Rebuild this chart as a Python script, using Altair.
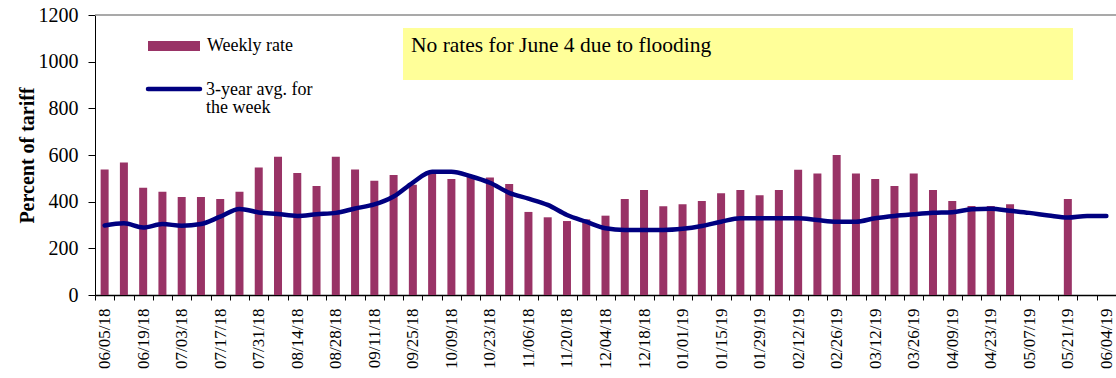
import altair as alt
import pandas as pd

weeks = [
    "06/05/18", "06/12/18", "06/19/18", "06/26/18", "07/03/18", "07/10/18", "07/17/18",
    "07/24/18", "07/31/18", "08/07/18", "08/14/18", "08/21/18", "08/28/18", "09/04/18",
    "09/11/18", "09/18/18", "09/25/18", "10/02/18", "10/09/18", "10/16/18", "10/23/18",
    "10/30/18", "11/06/18", "11/13/18", "11/20/18", "11/27/18", "12/04/18", "12/11/18",
    "12/18/18", "12/25/18", "01/01/19", "01/08/19", "01/15/19", "01/22/19", "01/29/19",
    "02/05/19", "02/12/19", "02/19/19", "02/26/19", "03/05/19", "03/12/19", "03/19/19",
    "03/26/19", "04/02/19", "04/09/19", "04/16/19", "04/23/19", "04/30/19", "05/07/19",
    "05/14/19", "05/21/19", "05/28/19", "06/04/19",
]

weekly_rate = [
    538, 568, 460, 443, 420, 420, 411, 443, 546, 593, 523, 467, 593, 538,
    490, 514, 472, 520, 497, 507, 504, 476, 356, 333, 317, 324, 340, 411,
    450, 380, 389, 403, 436, 450, 428, 450, 537, 521, 600, 521, 497, 467,
    521, 450, 403, 381, 381, 389, None, None, 411, None, None,
]

avg_3yr = [
    298, 307, 289, 304, 297, 304, 336, 369, 354, 347, 339, 346, 352, 371,
    388, 422, 482, 528, 528, 509, 481, 438, 413, 386, 343, 314, 286, 279,
    279, 279, 284, 296, 314, 329, 329, 329, 329, 321, 314, 314, 329, 339,
    346, 352, 355, 367, 370, 361, 352, 341, 332, 339, 339,
]

labeled_weeks = weeks[::2]
y_ticks = [0, 200, 400, 600, 800, 1000, 1200]

FONT = "Liberation Serif"
BAR = "#993366"
LINE = "#000080"

df = pd.DataFrame({"week": weeks, "rate": weekly_rate, "avg": avg_3yr})

label_list = "[" + ",".join("'" + w + "'" for w in labeled_weeks) + "]"

x_enc = alt.X(
    "week:N",
    sort=weeks,
    scale=alt.Scale(paddingInner=0, paddingOuter=0),
    axis=alt.Axis(
        title=None,
        labelAngle=270,
        labelFont=FONT,
        labelFontSize=17,
        labelColor="black",
        labelPadding=8,
        labelExpr="indexof(" + label_list + ", datum.value) >= 0 ? datum.label : ''",
        tickBand="extent",
        tickSize=5,
        tickColor="black",
        domainColor="black",
        domainWidth=1.5,
        grid=False,
    ),
)

y_scale = alt.Scale(domain=[0, 1200], nice=False)

bars = alt.Chart(df).mark_bar(color=BAR, size=8).encode(
    x=x_enc,
    y=alt.Y(
        "rate:Q",
        scale=y_scale,
        axis=alt.Axis(
            title="Percent of tariff",
            titleFont=FONT,
            titleFontSize=20,
            titleFontWeight="bold",
            titleColor="black",
            titleX=-62,
            titleY=140,
            titleBaseline="alphabetic",
            values=y_ticks,
            format="d",
            labelFont=FONT,
            labelFontSize=20,
            labelColor="black",
            labelPadding=10,
            tickSize=7,
            tickColor="black",
            domainColor="black",
            grid=False,
        ),
    ),
)

line = alt.Chart(df).mark_line(
    color=LINE, strokeWidth=4.5, interpolate="monotone", strokeCap="round"
).encode(
    x=alt.X("week:N", sort=weeks),
    y=alt.Y("avg:Q", scale=y_scale),
)

one = alt.Data(values=[{"k": 0}])

top_rule = alt.Chart(one).mark_rule(color="#8c8c8c", strokeWidth=1.5).encode(
    y=alt.datum(1200)
)

note_box = alt.Chart(one).mark_rect(color="#FFFF99").encode(
    x=alt.value(308), x2=alt.value(978), y=alt.value(13), y2=alt.value(65)
)
note_text = alt.Chart(one).mark_text(
    align="left", baseline="alphabetic", font=FONT, fontSize=21.5, color="black"
).encode(x=alt.value(316), y=alt.value(37), text=alt.value("No rates for June 4 due to flooding"))

leg_bar = alt.Chart(one).mark_rect(color=BAR).encode(
    x=alt.value(53), x2=alt.value(105), y=alt.value(26), y2=alt.value(36)
)
leg_bar_text = alt.Chart(one).mark_text(
    align="left", baseline="alphabetic", font=FONT, fontSize=18, color="black"
).encode(x=alt.value(112), y=alt.value(36), text=alt.value("Weekly rate"))

leg_line = alt.Chart(one).mark_rule(color=LINE, strokeWidth=4.5, strokeCap="round").encode(
    x=alt.value(53), x2=alt.value(105), y=alt.value(74)
)
leg_line_text1 = alt.Chart(one).mark_text(
    align="left", baseline="alphabetic", font=FONT, fontSize=18, color="black"
).encode(x=alt.value(111), y=alt.value(80), text=alt.value("3-year avg. for"))
leg_line_text2 = alt.Chart(one).mark_text(
    align="left", baseline="alphabetic", font=FONT, fontSize=18, color="black"
).encode(x=alt.value(111), y=alt.value(98), text=alt.value("the week"))

chart = alt.layer(
    note_box, note_text, bars, line, top_rule,
    leg_bar, leg_bar_text, leg_line, leg_line_text1, leg_line_text2,
).properties(
    width=1021,
    height=280,
    autosize=alt.AutoSizeParams(type="none"),
    padding={"left": 95, "top": 15, "right": 0, "bottom": 83},
    background="white",
).configure_view(strokeWidth=0)

chart.save("out.html", embed_options={"renderer": "svg", "actions": False})
